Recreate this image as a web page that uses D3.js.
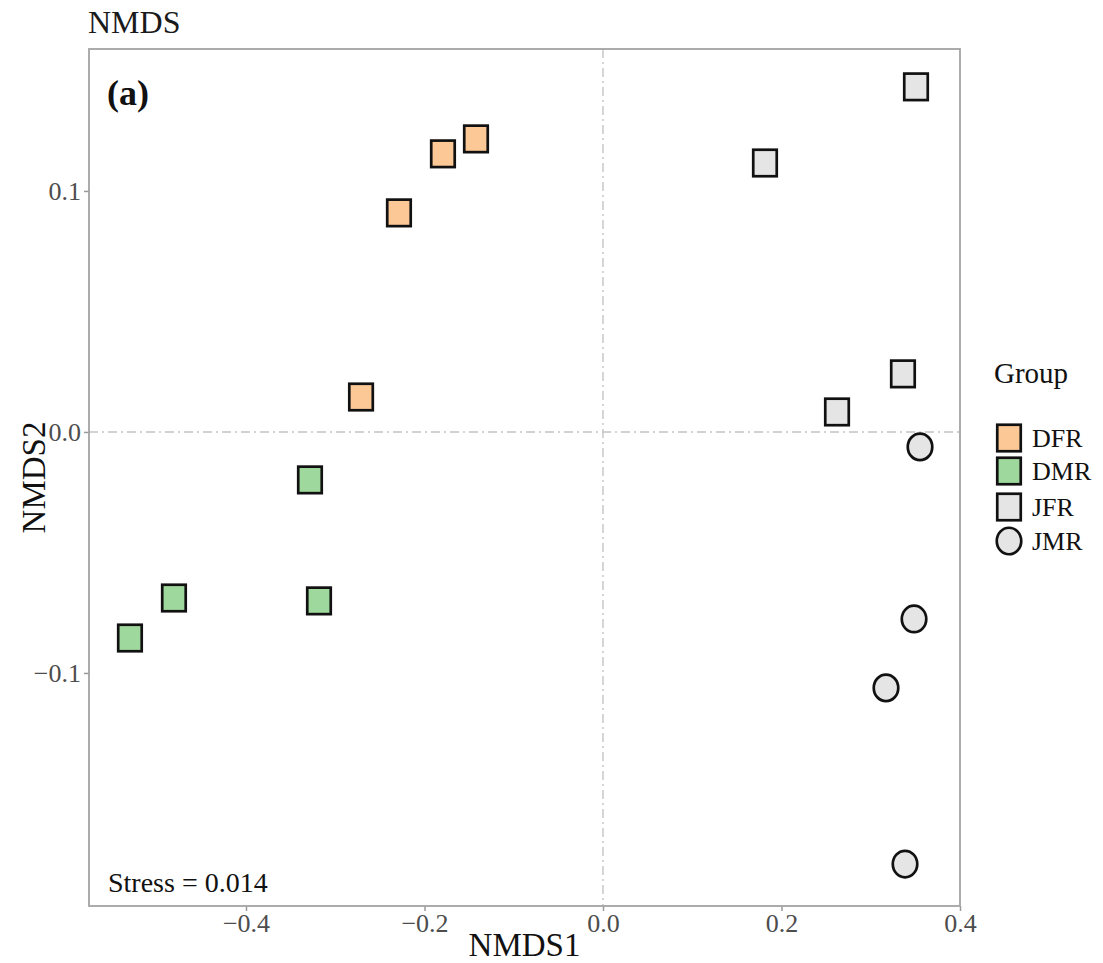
<!DOCTYPE html>
<html>
<head>
<meta charset="utf-8">
<script src="https://cdn.jsdelivr.net/npm/d3@7"></script>
<style>
  html, body { margin: 0; padding: 0; background: #fff; }
  svg { display: block; font-family: "Liberation Serif", "Times New Roman", serif; }
</style>
</head>
<body>
<svg id="chart" width="1103" height="963"></svg>
<script>
// NMDS ordination scores per sample
const groups = ["DFR", "DMR", "JFR", "JMR"];
const groupFill = ["#FCC896", "#9FD89C", "#E5E5E5", "#E5E5E5"];
const groupShape = ["square", "square", "square", "circle"];

const dfrX = [-0.1423, -0.1793, -0.2286, -0.2711];
const dfrY = [0.1216, 0.1154, 0.0909, 0.0145];
const dmrX = [-0.3283, -0.4807, -0.3182, -0.5300];
const dmrY = [-0.0199, -0.0689, -0.0701, -0.0855];
const jfrX = [0.3507, 0.1815, 0.3361, 0.2622];
const jfrY = [0.1432, 0.1116, 0.0241, 0.0083];
const jmrX = [0.3552, 0.3485, 0.3171, 0.3384];
const jmrY = [-0.0062, -0.0776, -0.1062, -0.1793];

const xTicks = [-0.4, -0.2, 0.0, 0.2, 0.4];
const yTicks = [-0.1, 0.0, 0.1];
const stressValue = "0.014";

const seriesX = [dfrX, dmrX, jfrX, jmrX];
const seriesY = [dfrY, dmrY, jfrY, jmrY];
const points = [];
groups.forEach((g, gi) => {
  seriesX[gi].forEach((v, i) => points.push({ group: g, gi, x: v, y: seriesY[gi][i] }));
});

const svg = d3.select("#chart");
const panel = { left: 89, top: 49, right: 960, bottom: 906 };

const x = d3.scaleLinear().domain([-0.5759, 0.4]).range([panel.left, panel.right]);
const y = d3.scaleLinear().domain([-0.1967, 0.1589]).range([panel.bottom, panel.top]);

// Zero reference lines
const refStyle = sel => sel.attr("stroke", "#C4C4C4").attr("stroke-width", 1.4)
  .attr("stroke-dasharray", "9,4,2,4").attr("fill", "none");
svg.append("line").attr("x1", x(0)).attr("x2", x(0))
  .attr("y1", panel.top).attr("y2", panel.bottom).call(refStyle);
svg.append("line").attr("x1", panel.left).attr("x2", panel.right)
  .attr("y1", y(0)).attr("y2", y(0)).call(refStyle);

// Axes
const xAxis = svg.append("g").attr("transform", `translate(0,${panel.bottom})`)
  .call(d3.axisBottom(x).tickValues(xTicks).tickSize(5).tickPadding(3)
    .tickFormat(d => d3.format(".1f")(d).replace("-", "\u2212")));
const yAxis = svg.append("g").attr("transform", `translate(${panel.left},0)`)
  .call(d3.axisLeft(y).tickValues(yTicks).tickSize(5).tickPadding(3)
    .tickFormat(d => d3.format(".1f")(d).replace("-", "\u2212")));
[xAxis, yAxis].forEach(a => {
  a.select(".domain").remove();
  a.selectAll(".tick line").attr("stroke", "#9A9A9A").attr("stroke-width", 1.5);
  a.selectAll(".tick text").attr("fill", "#4D4D4D")
    .style("font-family", "Liberation Serif, serif").style("font-size", "26px");
});
yAxis.selectAll(".tick text").attr("dy", "0.34em");

// Panel border
svg.append("rect").attr("x", panel.left).attr("y", panel.top)
  .attr("width", panel.right - panel.left).attr("height", panel.bottom - panel.top)
  .attr("fill", "none").attr("stroke", "#A3A3A3").attr("stroke-width", 1.8);

// Markers
const mw = 23.5, mh = 26.5;
function drawMarker(sel, shape, fill) {
  if (shape === "circle") {
    sel.append("ellipse").attr("rx", mw / 2 + 0.5).attr("ry", mh / 2)
      .attr("fill", fill).attr("stroke", "#111").attr("stroke-width", 2.7);
  } else {
    sel.append("rect").attr("x", -mw / 2).attr("y", -mh / 2)
      .attr("width", mw).attr("height", mh)
      .attr("fill", fill).attr("stroke", "#111").attr("stroke-width", 2.7);
  }
}
svg.append("g").selectAll("g").data(points).join("g")
  .attr("transform", d => `translate(${x(d.x)},${y(d.y)})`)
  .each(function(d) { drawMarker(d3.select(this), groupShape[d.gi], groupFill[d.gi]); });

// Annotations
svg.append("text").attr("x", 88).attr("y", 33).attr("font-size", 32).attr("fill", "#1a1a1a").text("NMDS");
svg.append("text").attr("x", 107).attr("y", 105).attr("font-size", 36).attr("font-weight", "bold")
  .attr("fill", "#111").text("(a)");
svg.append("text").attr("x", 108).attr("y", 892).attr("font-size", 28).attr("fill", "#111")
  .text(`Stress = ${stressValue}`);

// Axis titles
svg.append("text").attr("x", (panel.left + panel.right) / 2).attr("y", 956)
  .attr("text-anchor", "middle").attr("font-size", 33).attr("fill", "#111").text("NMDS1");
svg.append("text").attr("transform", `translate(45,${(panel.top + panel.bottom) / 2}) rotate(-90)`)
  .attr("text-anchor", "middle").attr("font-size", 33).attr("fill", "#111").text("NMDS2");

// Legend
const legend = svg.append("g");
legend.append("text").attr("x", 994).attr("y", 383).attr("font-size", 29).attr("fill", "#111").text("Group");
const legendY = [438, 471, 507, 541];
groups.forEach((g, gi) => {
  const row = legend.append("g").attr("transform", `translate(1009,${legendY[gi]})`);
  drawMarker(row, groupShape[gi], groupFill[gi]);
  legend.append("text").attr("x", 1032).attr("y", legendY[gi] + 8.5)
    .attr("font-size", 26).attr("fill", "#111").text(g);
});
</script>
</body>
</html>
